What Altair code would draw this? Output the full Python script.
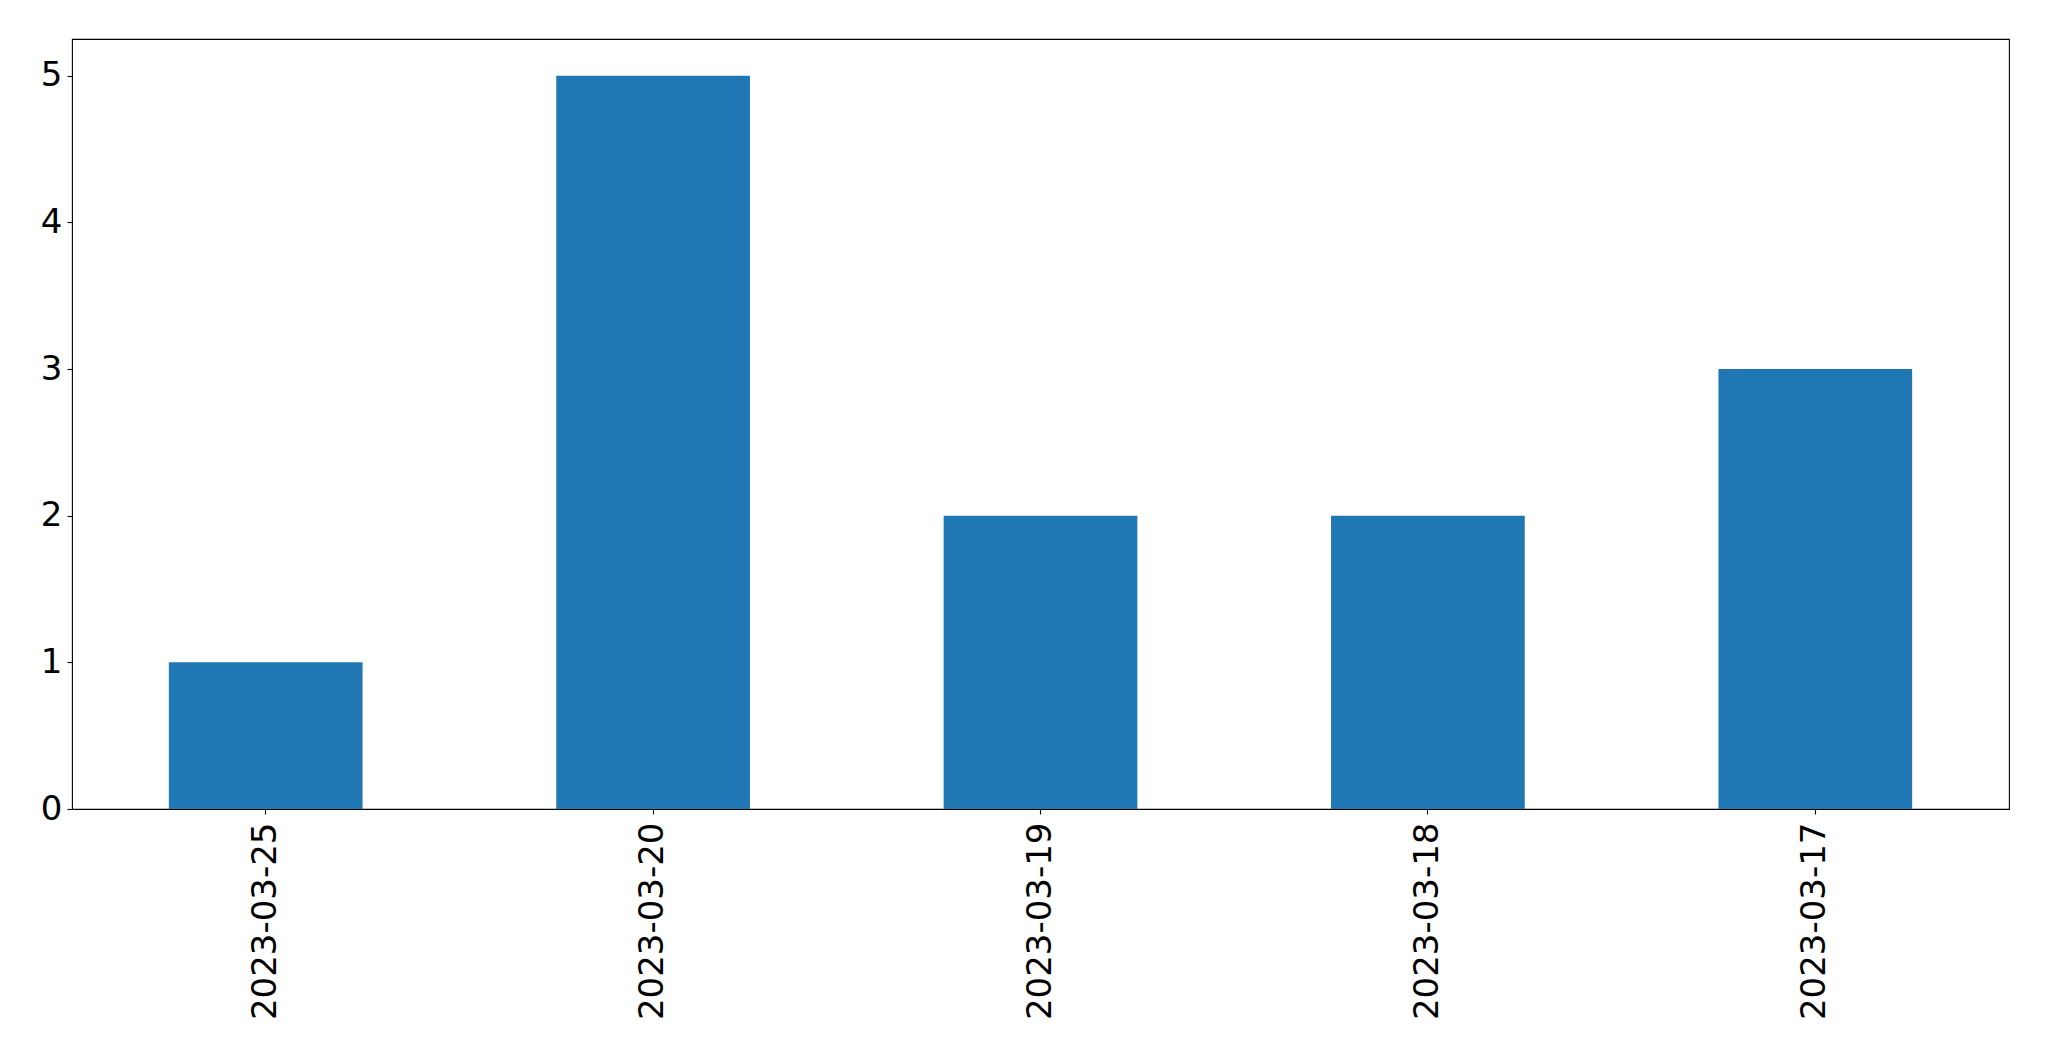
import altair as alt
import pandas as pd

dates = ["2023-03-25", "2023-03-20", "2023-03-19", "2023-03-18", "2023-03-17"]
counts = [1, 5, 2, 2, 3]
y_ticks = [0, 1, 2, 3, 4, 5]

df = pd.DataFrame({"date": dates, "count": counts})

font = "DejaVu Sans"

chart = (
    alt.Chart(df)
    .mark_bar(color="#1f77b4")
    .encode(
        x=alt.X(
            "date:N",
            sort=None,
            title=None,
            scale=alt.Scale(paddingInner=0.5, paddingOuter=0.25),
            axis=alt.Axis(
                labelAngle=-90,
                labelFont=font,
                labelFontSize=34,
                labelColor="black",
                labelLimit=0,
                tickColor="black",
                tickSize=5,
                tickWidth=1.1,
                labelPadding=8,
                domain=False,
                grid=False,
            ),
        ),
        y=alt.Y(
            "count:Q",
            title=None,
            scale=alt.Scale(domain=[0, 5.25], nice=False),
            axis=alt.Axis(
                values=y_ticks,
                format="d",
                labelFont=font,
                labelFontSize=34,
                labelColor="black",
                tickColor="black",
                tickSize=5,
                tickWidth=1.1,
                labelPadding=5,
                domain=False,
                grid=False,
            ),
        ),
    )
    .properties(
        width=1937,
        height=770,
        background="white",
        autosize=alt.AutoSizeParams(type="none"),
        padding={"left": 64, "top": 31, "right": 30, "bottom": 240},
    )
    .configure_view(stroke="black", strokeWidth=1.1)
)

chart.save("out.html", embed_options={"renderer": "svg", "actions": False})
